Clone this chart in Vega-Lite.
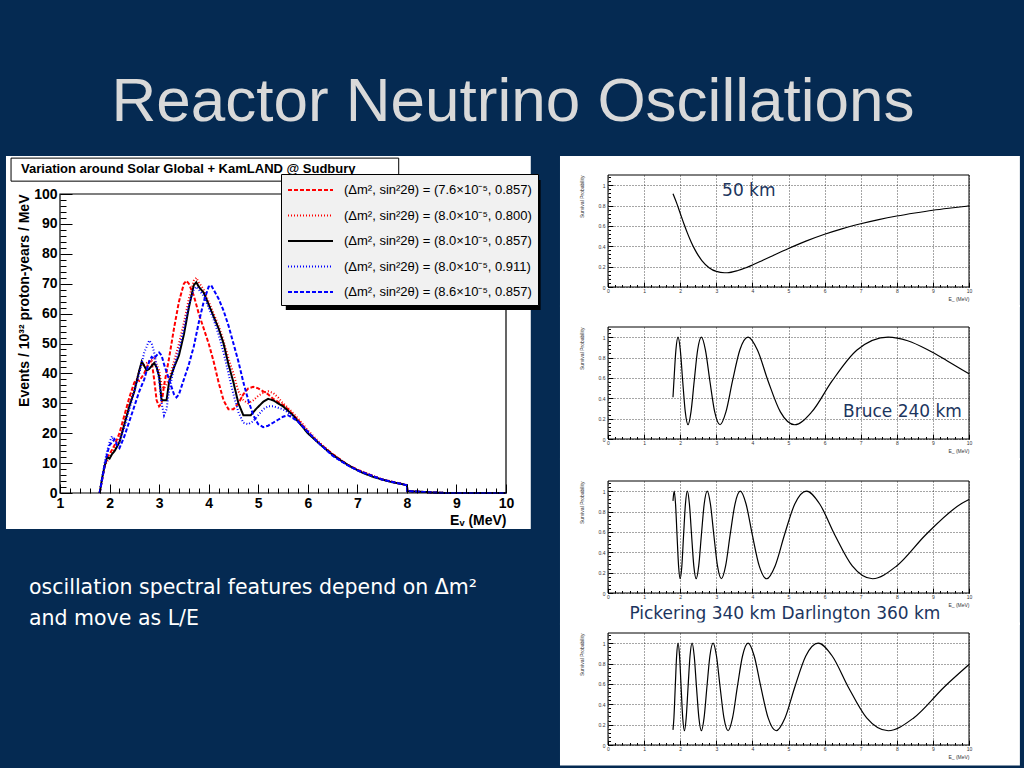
{
"$schema": "https://vega.github.io/schema/vega-lite/v6.json",
"background": "#052a52",
"padding": {"left": 5, "top": 70, "right": 4, "bottom": 6},
"title": {"text": "Reactor Neutrino Oscillations", "font": "Liberation Sans", "fontSize": 62, "fontWeight": "normal", "color": "#d9d9d9", "anchor": "middle", "offset": -27, "baseline": "alphabetic"},
"config": {"view": {"stroke": null}, "axisX": {"tickCount": 500}, "axisY": {"tickCount": 500}},
"datasets": {
"spec": [
{"s":"a","E":1.8,"v":0},{"s":"a","E":1.9,"v":9},{"s":"a","E":1.95,"v":12},{"s":"a","E":2.0,"v":13},{"s":"a","E":2.1,"v":16},{"s":"a","E":2.2,"v":20},{"s":"a","E":2.3,"v":26},{"s":"a","E":2.4,"v":32},{"s":"a","E":2.5,"v":37},{"s":"a","E":2.55,"v":38},{"s":"a","E":2.6,"v":37.5},{"s":"a","E":2.7,"v":40},{"s":"a","E":2.8,"v":44},{"s":"a","E":2.85,"v":44},{"s":"a","E":2.9,"v":38},{"s":"a","E":2.95,"v":31},{"s":"a","E":3.0,"v":29},{"s":"a","E":3.05,"v":30},{"s":"a","E":3.1,"v":36},{"s":"a","E":3.2,"v":45},{"s":"a","E":3.3,"v":55},{"s":"a","E":3.4,"v":64},{"s":"a","E":3.5,"v":70},{"s":"a","E":3.55,"v":71},{"s":"a","E":3.6,"v":70},{"s":"a","E":3.7,"v":66},{"s":"a","E":3.8,"v":60},{"s":"a","E":3.9,"v":55},{"s":"a","E":4.0,"v":50},{"s":"a","E":4.1,"v":44},{"s":"a","E":4.2,"v":37},{"s":"a","E":4.3,"v":31},{"s":"a","E":4.4,"v":28},{"s":"a","E":4.5,"v":28},{"s":"a","E":4.6,"v":30},{"s":"a","E":4.7,"v":33},{"s":"a","E":4.8,"v":35},{"s":"a","E":4.9,"v":35.5},{"s":"a","E":5.0,"v":35},{"s":"a","E":5.1,"v":34},{"s":"a","E":5.2,"v":33},{"s":"a","E":5.3,"v":31.5},{"s":"a","E":5.4,"v":30.5},{"s":"a","E":5.5,"v":29.5},{"s":"a","E":5.6,"v":28},{"s":"a","E":5.8,"v":24.5},{"s":"a","E":6.0,"v":20.5},{"s":"a","E":6.2,"v":17},{"s":"a","E":6.5,"v":13},{"s":"a","E":6.8,"v":9.5},{"s":"a","E":7.0,"v":7.8},{"s":"a","E":7.5,"v":4.5},{"s":"a","E":8.0,"v":2.6},{"s":"a","E":8.01,"v":0.6},{"s":"a","E":8.5,"v":0.2},{"s":"a","E":8.8,"v":0},{"s":"a","E":10,"v":0},
{"s":"b","E":1.8,"v":0},{"s":"b","E":1.9,"v":9},{"s":"b","E":2.0,"v":12},{"s":"b","E":2.1,"v":15},{"s":"b","E":2.2,"v":18},{"s":"b","E":2.3,"v":24},{"s":"b","E":2.4,"v":30},{"s":"b","E":2.5,"v":35},{"s":"b","E":2.6,"v":41},{"s":"b","E":2.65,"v":43},{"s":"b","E":2.7,"v":43},{"s":"b","E":2.8,"v":44},{"s":"b","E":2.9,"v":45},{"s":"b","E":3.0,"v":41},{"s":"b","E":3.05,"v":36},{"s":"b","E":3.1,"v":35},{"s":"b","E":3.2,"v":38},{"s":"b","E":3.3,"v":44},{"s":"b","E":3.4,"v":50},{"s":"b","E":3.5,"v":57},{"s":"b","E":3.6,"v":65},{"s":"b","E":3.7,"v":71},{"s":"b","E":3.75,"v":72},{"s":"b","E":3.8,"v":70.5},{"s":"b","E":3.9,"v":68},{"s":"b","E":4.0,"v":64},{"s":"b","E":4.1,"v":60},{"s":"b","E":4.2,"v":56},{"s":"b","E":4.3,"v":51},{"s":"b","E":4.4,"v":45},{"s":"b","E":4.5,"v":40},{"s":"b","E":4.6,"v":34},{"s":"b","E":4.7,"v":31},{"s":"b","E":4.8,"v":30},{"s":"b","E":4.9,"v":31},{"s":"b","E":5.0,"v":32.5},{"s":"b","E":5.1,"v":33.5},{"s":"b","E":5.2,"v":34},{"s":"b","E":5.3,"v":33.5},{"s":"b","E":5.4,"v":32},{"s":"b","E":5.5,"v":30},{"s":"b","E":5.6,"v":28.5},{"s":"b","E":5.8,"v":25},{"s":"b","E":6.0,"v":21},{"s":"b","E":6.2,"v":17.5},{"s":"b","E":6.5,"v":13},{"s":"b","E":6.8,"v":9.5},{"s":"b","E":7.0,"v":7.8},{"s":"b","E":7.5,"v":4.6},{"s":"b","E":8.0,"v":2.7},{"s":"b","E":8.01,"v":0.6},{"s":"b","E":8.5,"v":0.2},{"s":"b","E":8.8,"v":0},{"s":"b","E":10,"v":0},
{"s":"c","E":1.8,"v":0},{"s":"c","E":1.85,"v":5},{"s":"c","E":1.9,"v":9},{"s":"c","E":1.95,"v":12},{"s":"c","E":2.0,"v":11.5},{"s":"c","E":2.05,"v":13},{"s":"c","E":2.1,"v":14},{"s":"c","E":2.2,"v":17},{"s":"c","E":2.3,"v":23},{"s":"c","E":2.4,"v":29},{"s":"c","E":2.5,"v":34},{"s":"c","E":2.6,"v":41},{"s":"c","E":2.65,"v":44},{"s":"c","E":2.7,"v":42.5},{"s":"c","E":2.75,"v":41},{"s":"c","E":2.8,"v":41.5},{"s":"c","E":2.9,"v":43.5},{"s":"c","E":2.95,"v":42},{"s":"c","E":3.0,"v":39},{"s":"c","E":3.05,"v":31},{"s":"c","E":3.15,"v":31},{"s":"c","E":3.2,"v":37},{"s":"c","E":3.3,"v":42},{"s":"c","E":3.4,"v":46},{"s":"c","E":3.5,"v":53},{"s":"c","E":3.6,"v":62},{"s":"c","E":3.7,"v":69.5},{"s":"c","E":3.75,"v":70.5},{"s":"c","E":3.8,"v":69},{"s":"c","E":3.9,"v":67},{"s":"c","E":4.0,"v":63},{"s":"c","E":4.1,"v":59},{"s":"c","E":4.2,"v":55},{"s":"c","E":4.3,"v":50},{"s":"c","E":4.4,"v":43},{"s":"c","E":4.5,"v":37},{"s":"c","E":4.6,"v":30},{"s":"c","E":4.7,"v":26},{"s":"c","E":4.85,"v":26},{"s":"c","E":4.95,"v":28},{"s":"c","E":5.1,"v":30.5},{"s":"c","E":5.2,"v":31.5},{"s":"c","E":5.3,"v":31},{"s":"c","E":5.4,"v":30},{"s":"c","E":5.5,"v":29},{"s":"c","E":5.6,"v":27.5},{"s":"c","E":5.7,"v":26},{"s":"c","E":5.8,"v":24},{"s":"c","E":5.9,"v":22},{"s":"c","E":6.0,"v":20},{"s":"c","E":6.1,"v":18.5},{"s":"c","E":6.2,"v":17},{"s":"c","E":6.3,"v":15.5},{"s":"c","E":6.5,"v":12.8},{"s":"c","E":6.7,"v":10.5},{"s":"c","E":6.9,"v":8.5},{"s":"c","E":7.1,"v":6.8},{"s":"c","E":7.3,"v":5.5},{"s":"c","E":7.5,"v":4.5},{"s":"c","E":7.7,"v":3.6},{"s":"c","E":7.9,"v":3},{"s":"c","E":8.0,"v":2.6},{"s":"c","E":8.01,"v":0.6},{"s":"c","E":8.3,"v":0.4},{"s":"c","E":8.5,"v":0.2},{"s":"c","E":8.8,"v":0},{"s":"c","E":10,"v":0},
{"s":"d","E":1.8,"v":0},{"s":"d","E":1.9,"v":10},{"s":"d","E":1.95,"v":14},{"s":"d","E":2.0,"v":17},{"s":"d","E":2.05,"v":19},{"s":"d","E":2.1,"v":17},{"s":"d","E":2.2,"v":17},{"s":"d","E":2.3,"v":22},{"s":"d","E":2.4,"v":28},{"s":"d","E":2.5,"v":34},{"s":"d","E":2.6,"v":40},{"s":"d","E":2.7,"v":47},{"s":"d","E":2.8,"v":51},{"s":"d","E":2.85,"v":50},{"s":"d","E":2.9,"v":47},{"s":"d","E":3.0,"v":38},{"s":"d","E":3.05,"v":30},{"s":"d","E":3.1,"v":26},{"s":"d","E":3.15,"v":28},{"s":"d","E":3.2,"v":34},{"s":"d","E":3.3,"v":42},{"s":"d","E":3.4,"v":48},{"s":"d","E":3.5,"v":55},{"s":"d","E":3.6,"v":63},{"s":"d","E":3.7,"v":68},{"s":"d","E":3.75,"v":69},{"s":"d","E":3.8,"v":68},{"s":"d","E":3.9,"v":66},{"s":"d","E":4.0,"v":62},{"s":"d","E":4.1,"v":58},{"s":"d","E":4.2,"v":53},{"s":"d","E":4.3,"v":47},{"s":"d","E":4.4,"v":40},{"s":"d","E":4.5,"v":33},{"s":"d","E":4.6,"v":27},{"s":"d","E":4.7,"v":23.5},{"s":"d","E":4.8,"v":23},{"s":"d","E":4.9,"v":24},{"s":"d","E":5.0,"v":26},{"s":"d","E":5.1,"v":28},{"s":"d","E":5.2,"v":29},{"s":"d","E":5.3,"v":29},{"s":"d","E":5.4,"v":28.5},{"s":"d","E":5.5,"v":28},{"s":"d","E":5.6,"v":27},{"s":"d","E":5.8,"v":24},{"s":"d","E":6.0,"v":20.5},{"s":"d","E":6.2,"v":17},{"s":"d","E":6.5,"v":12.5},{"s":"d","E":6.8,"v":9.3},{"s":"d","E":7.0,"v":7.6},{"s":"d","E":7.5,"v":4.5},{"s":"d","E":8.0,"v":2.6},{"s":"d","E":8.01,"v":0.6},{"s":"d","E":8.5,"v":0.2},{"s":"d","E":8.8,"v":0},{"s":"d","E":10,"v":0},
{"s":"e","E":1.8,"v":0},{"s":"e","E":1.9,"v":9},{"s":"e","E":1.95,"v":13},{"s":"e","E":2.0,"v":16},{"s":"e","E":2.1,"v":18},{"s":"e","E":2.15,"v":16},{"s":"e","E":2.2,"v":15},{"s":"e","E":2.3,"v":19},{"s":"e","E":2.4,"v":24},{"s":"e","E":2.5,"v":29},{"s":"e","E":2.6,"v":34},{"s":"e","E":2.7,"v":38},{"s":"e","E":2.8,"v":44},{"s":"e","E":2.85,"v":45.5},{"s":"e","E":2.9,"v":45},{"s":"e","E":2.95,"v":46},{"s":"e","E":3.0,"v":47},{"s":"e","E":3.05,"v":46},{"s":"e","E":3.1,"v":43},{"s":"e","E":3.2,"v":38},{"s":"e","E":3.3,"v":33},{"s":"e","E":3.35,"v":32},{"s":"e","E":3.4,"v":33},{"s":"e","E":3.5,"v":38},{"s":"e","E":3.6,"v":43},{"s":"e","E":3.7,"v":49},{"s":"e","E":3.8,"v":57},{"s":"e","E":3.9,"v":64},{"s":"e","E":4.0,"v":69},{"s":"e","E":4.05,"v":69.5},{"s":"e","E":4.1,"v":68},{"s":"e","E":4.2,"v":65},{"s":"e","E":4.3,"v":61},{"s":"e","E":4.4,"v":56},{"s":"e","E":4.5,"v":50},{"s":"e","E":4.6,"v":44},{"s":"e","E":4.7,"v":37},{"s":"e","E":4.8,"v":31},{"s":"e","E":4.9,"v":26},{"s":"e","E":5.0,"v":23},{"s":"e","E":5.1,"v":22},{"s":"e","E":5.2,"v":22.5},{"s":"e","E":5.3,"v":23.5},{"s":"e","E":5.4,"v":24.5},{"s":"e","E":5.5,"v":25.5},{"s":"e","E":5.6,"v":26},{"s":"e","E":5.7,"v":25},{"s":"e","E":5.8,"v":24},{"s":"e","E":6.0,"v":20.5},{"s":"e","E":6.2,"v":17},{"s":"e","E":6.5,"v":12.5},{"s":"e","E":6.8,"v":9.3},{"s":"e","E":7.0,"v":7.6},{"s":"e","E":7.5,"v":4.5},{"s":"e","E":8.0,"v":2.6},{"s":"e","E":8.01,"v":0.6},{"s":"e","E":8.5,"v":0.2},{"s":"e","E":8.8,"v":0},{"s":"e","E":10,"v":0}
],
"p1": [{"E":1.8,"P":0.916},{"E":1.9,"P":0.826},{"E":2.0,"P":0.725},{"E":2.1,"P":0.624},{"E":2.2,"P":0.529},{"E":2.3,"P":0.445},{"E":2.4,"P":0.372},{"E":2.5,"P":0.31},{"E":2.6,"P":0.26},{"E":2.8,"P":0.19},{"E":3.0,"P":0.153},{"E":3.23,"P":0.14},{"E":3.3,"P":0.14},{"E":3.6,"P":0.162},{"E":3.8,"P":0.186},{"E":4.0,"P":0.216},{"E":4.25,"P":0.256},{"E":4.5,"P":0.297},{"E":5.0,"P":0.378},{"E":5.5,"P":0.453},{"E":6.0,"P":0.518},{"E":6.5,"P":0.574},{"E":7.0,"P":0.621},{"E":7.5,"P":0.662},{"E":8.0,"P":0.697},{"E":8.5,"P":0.727},{"E":9.0,"P":0.754},{"E":9.5,"P":0.776},{"E":10,"P":0.796}],
"p2": [{"E":1.8,"P":0.41},{"E":1.826,"P":0.57},{"E":1.881,"P":0.874},{"E":1.94,"P":1},{"E":2.003,"P":0.874},{"E":2.069,"P":0.57},{"E":2.141,"P":0.266},{"E":2.217,"P":0.14},{"E":2.299,"P":0.266},{"E":2.388,"P":0.57},{"E":2.483,"P":0.874},{"E":2.587,"P":1},{"E":2.699,"P":0.874},{"E":2.822,"P":0.57},{"E":2.956,"P":0.266},{"E":3.104,"P":0.14},{"E":3.267,"P":0.266},{"E":3.449,"P":0.57},{"E":3.652,"P":0.874},{"E":3.88,"P":1},{"E":4.139,"P":0.874},{"E":4.434,"P":0.57},{"E":4.775,"P":0.266},{"E":5.173,"P":0.14},{"E":5.644,"P":0.266},{"E":6.208,"P":0.57},{"E":6.898,"P":0.874},{"E":7.76,"P":1},{"E":8.3,"P":0.965},{"E":8.869,"P":0.874},{"E":9.4,"P":0.767},{"E":10,"P":0.64}],
"p3": [{"E":1.8,"P":0.905},{"E":1.8325,"P":1},{"E":1.871,"P":0.874},{"E":1.912,"P":0.57},{"E":1.955,"P":0.266},{"E":1.999,"P":0.14},{"E":2.046,"P":0.266},{"E":2.094,"P":0.57},{"E":2.145,"P":0.874},{"E":2.199,"P":1},{"E":2.255,"P":0.874},{"E":2.315,"P":0.57},{"E":2.377,"P":0.266},{"E":2.443,"P":0.14},{"E":2.513,"P":0.266},{"E":2.587,"P":0.57},{"E":2.665,"P":0.874},{"E":2.749,"P":1},{"E":2.837,"P":0.874},{"E":2.932,"P":0.57},{"E":3.033,"P":0.266},{"E":3.141,"P":0.14},{"E":3.258,"P":0.266},{"E":3.383,"P":0.57},{"E":3.518,"P":0.874},{"E":3.665,"P":1},{"E":3.824,"P":0.874},{"E":3.998,"P":0.57},{"E":4.189,"P":0.266},{"E":4.398,"P":0.14},{"E":4.629,"P":0.266},{"E":4.887,"P":0.57},{"E":5.174,"P":0.874},{"E":5.4975,"P":1},{"E":5.864,"P":0.874},{"E":6.283,"P":0.57},{"E":6.766,"P":0.266},{"E":7.33,"P":0.14},{"E":7.996,"P":0.266},{"E":8.796,"P":0.57},{"E":9.773,"P":0.874},{"E":10,"P":0.918}],
"p4": [{"E":1.8,"P":0.149},{"E":1.826,"P":0.266},{"E":1.863,"P":0.57},{"E":1.901,"P":0.874},{"E":1.941,"P":1},{"E":1.982,"P":0.874},{"E":2.025,"P":0.57},{"E":2.07,"P":0.266},{"E":2.117,"P":0.14},{"E":2.166,"P":0.266},{"E":2.218,"P":0.57},{"E":2.272,"P":0.874},{"E":2.329,"P":1},{"E":2.388,"P":0.874},{"E":2.451,"P":0.57},{"E":2.518,"P":0.266},{"E":2.5875,"P":0.14},{"E":2.661,"P":0.266},{"E":2.74,"P":0.57},{"E":2.823,"P":0.874},{"E":2.911,"P":1},{"E":3.005,"P":0.874},{"E":3.105,"P":0.57},{"E":3.212,"P":0.266},{"E":3.327,"P":0.14},{"E":3.45,"P":0.266},{"E":3.583,"P":0.57},{"E":3.726,"P":0.874},{"E":3.881,"P":1},{"E":4.05,"P":0.874},{"E":4.234,"P":0.57},{"E":4.436,"P":0.266},{"E":4.658,"P":0.14},{"E":4.903,"P":0.266},{"E":5.175,"P":0.57},{"E":5.479,"P":0.874},{"E":5.822,"P":1},{"E":6.21,"P":0.874},{"E":6.654,"P":0.57},{"E":7.165,"P":0.266},{"E":7.763,"P":0.14},{"E":8.468,"P":0.266},{"E":9.315,"P":0.57},{"E":10,"P":0.79}]
},
"spacing": 18,
"hconcat": [
{
 "width": 446, "height": 318,
 "layer": [
  {"data": {"values": [{}]}, "mark": {"type": "rect", "fill": "white", "clip": false},
   "encoding": {"x": {"datum": -0.09, "type": "quantitative", "scale": {"domain": [1, 10], "nice": false, "zero": false}}, "x2": {"datum": 10.5}, "y": {"datum": -12, "type": "quantitative", "scale": {"domain": [0, 106.355], "nice": false}}, "y2": {"datum": 112.7}}},
  {"data": {"name": "spec"},
   "mark": {"type": "line", "strokeWidth": 2},
   "encoding": {
    "x": {"field": "E", "type": "quantitative", "scale": {"domain": [1, 10], "nice": false, "zero": false},
      "axis": {"values": [1,1.2,1.4,1.6,1.8,2,2.2,2.4,2.6,2.8,3,3.2,3.4,3.6,3.8,4,4.2,4.4,4.6,4.8,5,5.2,5.4,5.6,5.8,6,6.2,6.4,6.6,6.8,7,7.2,7.4,7.6,7.8,8,8.2,8.4,8.6,8.8,9,9.2,9.4,9.6,9.8,10], "tickCount": 500,
        "labelExpr": "datum.value % 1 === 0 ? '' + datum.value : ''", "domain": false, "grid": false, "zindex": 1,
        "tickColor": "black", "tickWidth": 1, "tickSize": {"condition": {"test": "datum.value % 1 === 0", "value": -9}, "value": -5},
        "labelPadding": 12, "labelFont": "Liberation Sans", "labelFontWeight": "bold", "labelFontSize": 14, "labelColor": "black", "labelFlush": false, "labelOverlap": false, "labelBound": false,
        "title": "Eᵥ (MeV)", "titleAnchor": "end", "titleFont": "Liberation Sans", "titleFontWeight": "bold", "titleFontSize": 14, "titleColor": "black", "titlePadding": -1}},
    "y": {"field": "v", "type": "quantitative", "scale": {"domain": [0, 106.355], "nice": false},
      "axis": {"values": [0,2,4,6,8,10,12,14,16,18,20,22,24,26,28,30,32,34,36,38,40,42,44,46,48,50,52,54,56,58,60,62,64,66,68,70,72,74,76,78,80,82,84,86,88,90,92,94,96,98,100], "tickCount": 500,
        "labelExpr": "datum.value % 10 === 0 ? datum.label : ''", "format": "d", "domain": false, "grid": false, "zindex": 1,
        "tickColor": "black", "tickWidth": 1, "tickSize": {"condition": {"test": "datum.value % 10 === 0", "value": -12}, "value": -6},
        "labelPadding": 15, "labelFont": "Liberation Sans", "labelFontWeight": "bold", "labelFontSize": 14, "labelColor": "black", "labelOverlap": false, "labelBound": false, "labelFlush": false,
        "title": "Events / 10³² proton-years / MeV", "titleAnchor": "end", "titleY": 19, "titleFont": "Liberation Sans", "titleFontWeight": "bold", "titleFontSize": 14, "titleColor": "black", "titlePadding": 2}},
    "color": {"field": "s", "type": "nominal", "scale": {"domain": ["a","b","c","d","e"], "range": ["#ff0000","#ff0000","#000000","#0000ff","#0000ff"]},
      "legend": {"orient": "none", "legendX": 221, "legendY": -1, "title": null, "zindex": 1,
        "labelExpr": "{'a':'(Δm², sin²2θ) = (7.6×10⁻⁵, 0.857)','b':'(Δm², sin²2θ) = (8.0×10⁻⁵, 0.800)','c':'(Δm², sin²2θ) = (8.0×10⁻⁵, 0.857)','d':'(Δm², sin²2θ) = (8.0×10⁻⁵, 0.911)','e':'(Δm², sin²2θ) = (8.6×10⁻⁵, 0.857)'}[datum.label]",
        "labelFont": "Liberation Sans", "labelFontSize": 13, "labelColor": "black", "labelLimit": 400, "labelOffset": 23.5,
        "symbolType": "M-2.5,0H2.5", "symbolSize": 324, "symbolStrokeWidth": 2, "symbolFillColor": "transparent", "symbolOffset": 13.5,
        "fillColor": "#f1f1f1", "strokeColor": "black", "padding": 6, "rowPadding": 8.5}},
    "strokeDash": {"field": "s", "type": "nominal", "scale": {"domain": ["a","b","c","d","e"], "range": [[4,2],[1,2],[1,0],[1,2],[4,2]]}}
   }},
  {"data": {"values": [{}]}, "mark": {"type": "rect", "fill": "transparent", "stroke": "black", "strokeWidth": 1.2, "clip": false},
   "encoding": {"x": {"datum": 1, "type": "quantitative"}, "x2": {"datum": 10}, "y": {"datum": 0, "type": "quantitative"}, "y2": {"datum": 100}}},
  {"data": {"values": [{}]}, "mark": {"type": "rect", "fill": "black", "clip": false},
   "encoding": {"x": {"datum": 5.556, "type": "quantitative"}, "x2": {"datum": 10.698}, "y": {"datum": 61.2, "type": "quantitative"}, "y2": {"datum": 104.7}}},
  {"data": {"values": [{}]}, "mark": {"type": "rect", "fill": "white", "stroke": "black", "strokeWidth": 1, "clip": false},
   "encoding": {"x": {"datum": 0.012, "type": "quantitative"}, "x2": {"datum": 7.835}, "y": {"datum": 104.3, "type": "quantitative"}, "y2": {"datum": 112}}},
  {"data": {"values": [{"t": "Variation around Solar Global + KamLAND @ Sudbury"}]},
   "mark": {"type": "text", "align": "left", "baseline": "middle", "font": "Liberation Sans", "fontWeight": "bold", "fontSize": 13, "color": "black", "clip": false},
   "encoding": {"x": {"datum": 0.214, "type": "quantitative"}, "y": {"datum": 108.2, "type": "quantitative"}, "text": {"field": "t"}}},
  {"data": {"values": [{"t": "oscillation spectral features depend on Δm²\nand move as L/E"}]},
   "mark": {"type": "text", "align": "left", "baseline": "alphabetic", "font": "DejaVu Sans", "fontSize": 20.5, "color": "white", "lineBreak": "\n", "lineHeight": 31, "clip": false},
   "encoding": {"x": {"datum": 0.375, "type": "quantitative"}, "y": {"datum": -33.8, "type": "quantitative"}, "text": {"field": "t"}}}
 ]
},
{
 "spacing": -3,
 "vconcat": [
  {"width": 361, "height": 112,
   "layer": [
    {"data": {"values": [{}]}, "mark": {"type": "rect", "fill": "white", "clip": false},
     "encoding": {"x": {"datum": -1.33, "type": "quantitative", "scale": {"domain": [0, 10], "nice": false, "zero": false}}, "x2": {"datum": 11.41}, "y": {"datum": -0.196, "type": "quantitative", "scale": {"domain": [0, 1.1], "nice": false}}, "y2": {"datum": 1.287}}},
    {"data": {"name": "p1"}, "mark": {"type": "line", "color": "black", "strokeWidth": 1.2, "interpolate": "monotone"},
     "encoding": {
      "x": {"field": "E", "type": "quantitative", "scale": {"domain": [0, 10], "nice": false, "zero": false},
        "axis": {"values": [0,0.2,0.4,0.6,0.8,1,1.2,1.4,1.6,1.8,2,2.2,2.4,2.6,2.8,3,3.2,3.4,3.6,3.8,4,4.2,4.4,4.6,4.8,5,5.2,5.4,5.6,5.8,6,6.2,6.4,6.6,6.8,7,7.2,7.4,7.6,7.8,8,8.2,8.4,8.6,8.8,9,9.2,9.4,9.6,9.8,10], "tickCount": 500,
          "labelExpr": "datum.value % 1 === 0 ? '' + datum.value : ''", "domain": false, "zindex": 1,
          "grid": true, "gridColor": "black", "gridDash": [1, 2], "gridWidth": 0.7, "gridOpacity": {"condition": {"test": "datum.value % 1 === 0", "value": 1}, "value": 0},
          "tickColor": "black", "tickSize": {"condition": {"test": "datum.value % 1 === 0", "value": -5}, "value": -2.5},
          "labelPadding": 6, "labelFont": "Liberation Sans", "labelFontSize": 5, "labelColor": "#333", "labelFlush": false, "labelOverlap": false, "labelBound": false,
          "title": "E_ (MeV)", "titleAnchor": "end", "titleFont": "Liberation Sans", "titleFontSize": 5, "titleFontWeight": "normal", "titleColor": "#333", "titlePadding": 1}},
      "y": {"field": "P", "type": "quantitative", "scale": {"domain": [0, 1.1], "nice": false},
        "axis": {"values": [0,0.04,0.08,0.12,0.16,0.2,0.24,0.28,0.32,0.36,0.4,0.44,0.48,0.52,0.56,0.6,0.64,0.68,0.72,0.76,0.8,0.84,0.88,0.92,0.96,1,1.04,1.08], "tickCount": 500,
          "labelExpr": "abs(datum.value*5 - round(datum.value*5)) < 0.001 ? datum.label : ''", "format": ".1~f", "domain": false, "zindex": 1,
          "grid": true, "gridColor": "black", "gridDash": [1, 2], "gridWidth": 0.7, "gridOpacity": {"condition": {"test": "abs(datum.value*5 - round(datum.value*5)) < 0.001", "value": 1}, "value": 0},
          "tickColor": "black", "tickSize": {"condition": {"test": "abs(datum.value*5 - round(datum.value*5)) < 0.001", "value": -5}, "value": -2.5},
          "labelPadding": 8, "labelFont": "Liberation Sans", "labelFontSize": 5, "labelColor": "#333", "labelFlush": false, "labelOverlap": false, "labelBound": false,
          "title": "Survival Probability", "titleAnchor": "end", "titleFont": "Liberation Sans", "titleFontSize": 5, "titleFontWeight": "normal", "titleColor": "#333", "titlePadding": 14}}
     }},
    {"data": {"values": [{}]}, "mark": {"type": "rect", "fill": "transparent", "stroke": "black", "strokeWidth": 1, "clip": false},
     "encoding": {"x": {"datum": 0, "type": "quantitative"}, "x2": {"datum": 10}, "y": {"datum": 0, "type": "quantitative"}, "y2": {"datum": 1.1}}},
    {"data": {"values": [{"t": "50 km"}]}, "mark": {"type": "text", "align": "left", "baseline": "middle", "font": "DejaVu Sans", "fontSize": 17, "color": "#1c355e", "clip": false},
     "encoding": {"x": {"datum": 3.16, "type": "quantitative"}, "y": {"datum": 0.94, "type": "quantitative"}, "text": {"field": "t"}}}
   ]},
  {"width": 361, "height": 112,
   "layer": [
    {"data": {"values": [{}]}, "mark": {"type": "rect", "fill": "white", "clip": false},
     "encoding": {"x": {"datum": -1.33, "type": "quantitative", "scale": {"domain": [0, 10], "nice": false, "zero": false}}, "x2": {"datum": 11.41}, "y": {"datum": -0.206, "type": "quantitative", "scale": {"domain": [0, 1.1], "nice": false}}, "y2": {"datum": 1.317}}},
    {"data": {"name": "p2"}, "mark": {"type": "line", "color": "black", "strokeWidth": 1.2, "interpolate": "monotone"},
     "encoding": {
      "x": {"field": "E", "type": "quantitative", "scale": {"domain": [0, 10], "nice": false, "zero": false},
        "axis": {"values": [0,0.2,0.4,0.6,0.8,1,1.2,1.4,1.6,1.8,2,2.2,2.4,2.6,2.8,3,3.2,3.4,3.6,3.8,4,4.2,4.4,4.6,4.8,5,5.2,5.4,5.6,5.8,6,6.2,6.4,6.6,6.8,7,7.2,7.4,7.6,7.8,8,8.2,8.4,8.6,8.8,9,9.2,9.4,9.6,9.8,10], "tickCount": 500,
          "labelExpr": "datum.value % 1 === 0 ? '' + datum.value : ''", "domain": false, "zindex": 1,
          "grid": true, "gridColor": "black", "gridDash": [1, 2], "gridWidth": 0.7, "gridOpacity": {"condition": {"test": "datum.value % 1 === 0", "value": 1}, "value": 0},
          "tickColor": "black", "tickSize": {"condition": {"test": "datum.value % 1 === 0", "value": -5}, "value": -2.5},
          "labelPadding": 6, "labelFont": "Liberation Sans", "labelFontSize": 5, "labelColor": "#333", "labelFlush": false, "labelOverlap": false, "labelBound": false,
          "title": "E_ (MeV)", "titleAnchor": "end", "titleFont": "Liberation Sans", "titleFontSize": 5, "titleFontWeight": "normal", "titleColor": "#333", "titlePadding": 1}},
      "y": {"field": "P", "type": "quantitative", "scale": {"domain": [0, 1.1], "nice": false},
        "axis": {"values": [0,0.04,0.08,0.12,0.16,0.2,0.24,0.28,0.32,0.36,0.4,0.44,0.48,0.52,0.56,0.6,0.64,0.68,0.72,0.76,0.8,0.84,0.88,0.92,0.96,1,1.04,1.08], "tickCount": 500,
          "labelExpr": "abs(datum.value*5 - round(datum.value*5)) < 0.001 ? datum.label : ''", "format": ".1~f", "domain": false, "zindex": 1,
          "grid": true, "gridColor": "black", "gridDash": [1, 2], "gridWidth": 0.7, "gridOpacity": {"condition": {"test": "abs(datum.value*5 - round(datum.value*5)) < 0.001", "value": 1}, "value": 0},
          "tickColor": "black", "tickSize": {"condition": {"test": "abs(datum.value*5 - round(datum.value*5)) < 0.001", "value": -5}, "value": -2.5},
          "labelPadding": 8, "labelFont": "Liberation Sans", "labelFontSize": 5, "labelColor": "#333", "labelFlush": false, "labelOverlap": false, "labelBound": false,
          "title": "Survival Probability", "titleAnchor": "end", "titleFont": "Liberation Sans", "titleFontSize": 5, "titleFontWeight": "normal", "titleColor": "#333", "titlePadding": 14}}
     }},
    {"data": {"values": [{}]}, "mark": {"type": "rect", "fill": "transparent", "stroke": "black", "strokeWidth": 1, "clip": false},
     "encoding": {"x": {"datum": 0, "type": "quantitative"}, "x2": {"datum": 10}, "y": {"datum": 0, "type": "quantitative"}, "y2": {"datum": 1.1}}},
    {"data": {"values": [{"t": "Bruce 240 km"}]}, "mark": {"type": "text", "align": "left", "baseline": "middle", "font": "DejaVu Sans", "fontSize": 17, "color": "#1c355e", "clip": false},
     "encoding": {"x": {"datum": 6.51, "type": "quantitative"}, "y": {"datum": 0.27, "type": "quantitative"}, "text": {"field": "t"}}}
   ]},
  {"width": 361, "height": 112,
   "layer": [
    {"data": {"values": [{}]}, "mark": {"type": "rect", "fill": "white", "clip": false},
     "encoding": {"x": {"datum": -1.33, "type": "quantitative", "scale": {"domain": [0, 10], "nice": false, "zero": false}}, "x2": {"datum": 11.41}, "y": {"datum": -0.314, "type": "quantitative", "scale": {"domain": [0, 1.1], "nice": false}}, "y2": {"datum": 1.326}}},
    {"data": {"name": "p3"}, "mark": {"type": "line", "color": "black", "strokeWidth": 1.2, "interpolate": "monotone"},
     "encoding": {
      "x": {"field": "E", "type": "quantitative", "scale": {"domain": [0, 10], "nice": false, "zero": false},
        "axis": {"values": [0,0.2,0.4,0.6,0.8,1,1.2,1.4,1.6,1.8,2,2.2,2.4,2.6,2.8,3,3.2,3.4,3.6,3.8,4,4.2,4.4,4.6,4.8,5,5.2,5.4,5.6,5.8,6,6.2,6.4,6.6,6.8,7,7.2,7.4,7.6,7.8,8,8.2,8.4,8.6,8.8,9,9.2,9.4,9.6,9.8,10], "tickCount": 500,
          "labelExpr": "datum.value % 1 === 0 ? '' + datum.value : ''", "domain": false, "zindex": 1,
          "grid": true, "gridColor": "black", "gridDash": [1, 2], "gridWidth": 0.7, "gridOpacity": {"condition": {"test": "datum.value % 1 === 0", "value": 1}, "value": 0},
          "tickColor": "black", "tickSize": {"condition": {"test": "datum.value % 1 === 0", "value": -5}, "value": -2.5},
          "labelPadding": 6, "labelFont": "Liberation Sans", "labelFontSize": 5, "labelColor": "#333", "labelFlush": false, "labelOverlap": false, "labelBound": false,
          "title": "E_ (MeV)", "titleAnchor": "end", "titleFont": "Liberation Sans", "titleFontSize": 5, "titleFontWeight": "normal", "titleColor": "#333", "titlePadding": 1}},
      "y": {"field": "P", "type": "quantitative", "scale": {"domain": [0, 1.1], "nice": false},
        "axis": {"values": [0,0.04,0.08,0.12,0.16,0.2,0.24,0.28,0.32,0.36,0.4,0.44,0.48,0.52,0.56,0.6,0.64,0.68,0.72,0.76,0.8,0.84,0.88,0.92,0.96,1,1.04,1.08], "tickCount": 500,
          "labelExpr": "abs(datum.value*5 - round(datum.value*5)) < 0.001 ? datum.label : ''", "format": ".1~f", "domain": false, "zindex": 1,
          "grid": true, "gridColor": "black", "gridDash": [1, 2], "gridWidth": 0.7, "gridOpacity": {"condition": {"test": "abs(datum.value*5 - round(datum.value*5)) < 0.001", "value": 1}, "value": 0},
          "tickColor": "black", "tickSize": {"condition": {"test": "abs(datum.value*5 - round(datum.value*5)) < 0.001", "value": -5}, "value": -2.5},
          "labelPadding": 8, "labelFont": "Liberation Sans", "labelFontSize": 5, "labelColor": "#333", "labelFlush": false, "labelOverlap": false, "labelBound": false,
          "title": "Survival Probability", "titleAnchor": "end", "titleFont": "Liberation Sans", "titleFontSize": 5, "titleFontWeight": "normal", "titleColor": "#333", "titlePadding": 14}}
     }},
    {"data": {"values": [{}]}, "mark": {"type": "rect", "fill": "transparent", "stroke": "black", "strokeWidth": 1, "clip": false},
     "encoding": {"x": {"datum": 0, "type": "quantitative"}, "x2": {"datum": 10}, "y": {"datum": 0, "type": "quantitative"}, "y2": {"datum": 1.1}}},
    {"data": {"values": [{"t": "Pickering 340 km Darlington 360 km"}]}, "mark": {"type": "text", "align": "center", "baseline": "middle", "font": "DejaVu Sans", "fontSize": 17, "color": "#1c355e", "clip": false},
     "encoding": {"x": {"datum": 4.9, "type": "quantitative"}, "y": {"datum": -0.21, "type": "quantitative"}, "text": {"field": "t"}}}
   ]},
  {"width": 361, "height": 112,
   "layer": [
    {"data": {"values": [{}]}, "mark": {"type": "rect", "fill": "white", "clip": false},
     "encoding": {"x": {"datum": -1.33, "type": "quantitative", "scale": {"domain": [0, 10], "nice": false, "zero": false}}, "x2": {"datum": 11.41}, "y": {"datum": -0.201, "type": "quantitative", "scale": {"domain": [0, 1.1], "nice": false}}, "y2": {"datum": 1.204}}},
    {"data": {"name": "p4"}, "mark": {"type": "line", "color": "black", "strokeWidth": 1.2, "interpolate": "monotone"},
     "encoding": {
      "x": {"field": "E", "type": "quantitative", "scale": {"domain": [0, 10], "nice": false, "zero": false},
        "axis": {"values": [0,0.2,0.4,0.6,0.8,1,1.2,1.4,1.6,1.8,2,2.2,2.4,2.6,2.8,3,3.2,3.4,3.6,3.8,4,4.2,4.4,4.6,4.8,5,5.2,5.4,5.6,5.8,6,6.2,6.4,6.6,6.8,7,7.2,7.4,7.6,7.8,8,8.2,8.4,8.6,8.8,9,9.2,9.4,9.6,9.8,10], "tickCount": 500,
          "labelExpr": "datum.value % 1 === 0 ? '' + datum.value : ''", "domain": false, "zindex": 1,
          "grid": true, "gridColor": "black", "gridDash": [1, 2], "gridWidth": 0.7, "gridOpacity": {"condition": {"test": "datum.value % 1 === 0", "value": 1}, "value": 0},
          "tickColor": "black", "tickSize": {"condition": {"test": "datum.value % 1 === 0", "value": -5}, "value": -2.5},
          "labelPadding": 6, "labelFont": "Liberation Sans", "labelFontSize": 5, "labelColor": "#333", "labelFlush": false, "labelOverlap": false, "labelBound": false,
          "title": "E_ (MeV)", "titleAnchor": "end", "titleFont": "Liberation Sans", "titleFontSize": 5, "titleFontWeight": "normal", "titleColor": "#333", "titlePadding": 1}},
      "y": {"field": "P", "type": "quantitative", "scale": {"domain": [0, 1.1], "nice": false},
        "axis": {"values": [0,0.04,0.08,0.12,0.16,0.2,0.24,0.28,0.32,0.36,0.4,0.44,0.48,0.52,0.56,0.6,0.64,0.68,0.72,0.76,0.8,0.84,0.88,0.92,0.96,1,1.04,1.08], "tickCount": 500,
          "labelExpr": "abs(datum.value*5 - round(datum.value*5)) < 0.001 ? datum.label : ''", "format": ".1~f", "domain": false, "zindex": 1,
          "grid": true, "gridColor": "black", "gridDash": [1, 2], "gridWidth": 0.7, "gridOpacity": {"condition": {"test": "abs(datum.value*5 - round(datum.value*5)) < 0.001", "value": 1}, "value": 0},
          "tickColor": "black", "tickSize": {"condition": {"test": "abs(datum.value*5 - round(datum.value*5)) < 0.001", "value": -5}, "value": -2.5},
          "labelPadding": 8, "labelFont": "Liberation Sans", "labelFontSize": 5, "labelColor": "#333", "labelFlush": false, "labelOverlap": false, "labelBound": false,
          "title": "Survival Probability", "titleAnchor": "end", "titleFont": "Liberation Sans", "titleFontSize": 5, "titleFontWeight": "normal", "titleColor": "#333", "titlePadding": 14}}
     }},
    {"data": {"values": [{}]}, "mark": {"type": "rect", "fill": "transparent", "stroke": "black", "strokeWidth": 1, "clip": false},
     "encoding": {"x": {"datum": 0, "type": "quantitative"}, "x2": {"datum": 10}, "y": {"datum": 0, "type": "quantitative"}, "y2": {"datum": 1.1}}}
   ]}
 ]
}
]
}
